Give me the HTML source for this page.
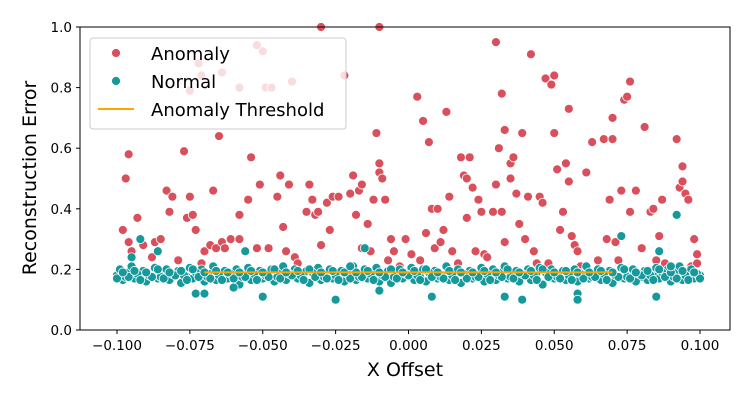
<!DOCTYPE html>
<html><head><meta charset="utf-8"><style>
body{margin:0;background:#fff}
svg text{font-family:"DejaVu Sans","Liberation Sans",sans-serif;fill:#000}
</style></head><body>
<svg id="chart" width="750" height="400" xmlns="http://www.w3.org/2000/svg">
<g id="marks"></g>
<g id="axes"></g>
<g>
<rect x="90" y="38" width="256" height="91" rx="3" fill="#fff" fill-opacity="0.8" stroke="#ccc"/>
<circle cx="116" cy="53" r="4.5" fill="#d9505c" stroke="#fff" stroke-width="0.8"/>
<text x="151" y="60" font-size="18">Anomaly</text>
<circle cx="116" cy="81" r="4.5" fill="#16999b" stroke="#fff" stroke-width="0.8"/>
<text x="151" y="88" font-size="18">Normal</text>
<line x1="98" y1="109" x2="134" y2="109" stroke="#ffa500" stroke-width="2"/>
<text x="151" y="116" font-size="18">Anomaly Threshold</text>
</g>
</svg>
<script>
const xTicks=[-0.100,-0.075,-0.050,-0.025,0.000,0.025,0.050,0.075,0.100];
const xTickLabels=["−0.100","−0.075","−0.050","−0.025","0.000","0.025","0.050","0.075","0.100"];
const yTicks=[0.0,0.2,0.4,0.6,0.8,1.0];
const yTickLabels=["0.0","0.2","0.4","0.6","0.8","1.0"];
const threshold=0.19;
const thresholdRange=[-0.07,0.07];
const anomalyX=[-0.098,-0.097,-0.096,-0.095,-0.096,-0.093,-0.091,-0.088,-0.087,-0.085,-0.083,-0.082,-0.081,-0.079,-0.077,-0.076,-0.075,-0.074,-0.073,-0.072,-0.071,-0.071,-0.070,-0.068,-0.067,-0.066,-0.065,-0.064,-0.063,-0.061,-0.058,-0.058,-0.055,-0.054,-0.052,-0.051,-0.049,-0.048,-0.045,-0.044,-0.043,-0.042,-0.041,-0.039,-0.038,-0.035,-0.034,-0.033,-0.032,-0.031,-0.030,-0.028,-0.027,-0.026,-0.024,-0.022,-0.020,-0.019,-0.018,-0.017,-0.016,-0.016,-0.014,-0.013,-0.012,-0.011,-0.010,-0.010,-0.009,-0.008,-0.007,-0.006,-0.005,-0.003,-0.001,0.001,0.003,0.004,0.005,0.006,0.007,0.008,0.009,0.010,0.011,0.012,0.013,0.014,0.015,0.017,0.018,0.019,0.020,0.020,0.021,0.022,0.023,0.024,0.025,0.026,0.027,0.029,0.030,0.030,0.031,0.032,0.032,0.033,0.033,0.035,0.035,0.036,0.037,0.038,0.039,0.040,0.041,0.042,0.043,0.044,0.045,0.046,0.047,0.048,0.049,0.050,0.050,0.051,0.052,0.053,0.054,0.055,0.055,0.056,0.057,0.058,0.059,0.061,0.063,0.065,0.067,0.068,0.069,0.070,0.070,0.071,0.072,0.073,0.074,0.075,0.076,0.076,0.078,0.080,0.081,0.083,0.084,0.085,0.086,0.087,0.088,0.092,0.093,0.094,0.094,0.095,0.096,0.097,0.098,0.099,0.099,-0.075,-0.064,-0.058,-0.050,-0.047,-0.040,-0.052,-0.030,-0.010];
const anomalyY=[0.33,0.50,0.58,0.26,0.29,0.37,0.28,0.24,0.29,0.30,0.46,0.39,0.44,0.23,0.59,0.37,0.44,0.38,0.33,0.88,0.84,0.22,0.26,0.28,0.46,0.27,0.64,0.29,0.27,0.30,0.38,0.30,0.43,0.57,0.27,0.48,0.80,0.27,0.44,0.51,0.34,0.26,0.48,0.24,0.22,0.39,0.48,0.43,0.38,0.39,0.28,0.42,0.33,0.44,0.44,0.84,0.45,0.51,0.38,0.46,0.27,0.48,0.35,0.26,0.43,0.65,0.55,0.52,0.50,0.43,0.23,0.30,0.26,0.21,0.30,0.25,0.77,0.23,0.69,0.32,0.62,0.40,0.27,0.40,0.29,0.33,0.72,0.44,0.26,0.22,0.57,0.51,0.50,0.37,0.57,0.47,0.26,0.43,0.39,0.25,0.24,0.39,0.95,0.48,0.60,0.78,0.39,0.66,0.29,0.50,0.55,0.57,0.45,0.35,0.65,0.30,0.44,0.91,0.26,0.22,0.44,0.42,0.83,0.22,0.81,0.84,0.65,0.53,0.33,0.39,0.55,0.73,0.49,0.31,0.28,0.26,0.21,0.52,0.62,0.23,0.63,0.30,0.43,0.70,0.63,0.29,0.23,0.46,0.76,0.77,0.82,0.39,0.46,0.27,0.67,0.39,0.40,0.23,0.31,0.43,0.22,0.63,0.47,0.54,0.49,0.45,0.43,0.21,0.30,0.25,0.22,0.79,0.85,0.80,0.92,0.80,0.82,0.94,1.00,1.00];
const normalX=[-0.100,-0.096,-0.092,-0.088,-0.084,-0.080,-0.076,-0.072,-0.068,-0.064,-0.060,-0.056,-0.052,-0.048,-0.044,-0.040,-0.036,-0.032,-0.028,-0.024,-0.020,-0.016,-0.012,-0.008,-0.004,0.000,0.004,0.008,0.012,0.016,0.020,0.024,0.028,0.032,0.036,0.040,0.044,0.048,0.052,0.056,0.060,0.064,0.068,0.072,0.076,0.080,0.084,0.088,0.092,0.096,0.100,
-0.098,-0.094,-0.090,-0.086,-0.082,-0.078,-0.074,-0.070,-0.066,-0.062,-0.058,-0.054,-0.050,-0.046,-0.042,-0.038,-0.034,-0.030,-0.026,-0.022,-0.018,-0.014,-0.010,-0.006,-0.002,0.002,0.006,0.010,0.014,0.018,0.022,0.026,0.030,0.034,0.038,0.042,0.046,0.050,0.054,0.058,0.062,0.066,0.070,0.074,0.078,0.082,0.086,0.090,0.094,0.098,
-0.099,-0.095,-0.091,-0.087,-0.083,-0.079,-0.075,-0.071,-0.067,-0.063,-0.059,-0.055,-0.051,-0.047,-0.043,-0.039,-0.035,-0.031,-0.027,-0.023,-0.019,-0.015,-0.011,-0.007,-0.003,0.001,0.005,0.009,0.013,0.017,0.021,0.025,0.029,0.033,0.037,0.041,0.045,0.049,0.053,0.057,0.061,0.065,0.069,0.073,0.077,0.081,0.085,0.089,0.093,0.097,
-0.097,-0.093,-0.089,-0.085,-0.081,-0.077,-0.073,-0.069,-0.065,-0.061,-0.057,-0.053,-0.049,-0.045,-0.041,-0.037,-0.033,-0.029,-0.025,-0.021,-0.017,-0.013,-0.009,-0.005,-0.001,0.003,0.007,0.011,0.015,0.019,0.023,0.027,0.031,0.035,0.039,0.043,0.047,0.051,0.055,0.059,0.063,0.067,0.071,0.075,0.079,0.083,0.087,0.091,0.095,0.099,
-0.100,-0.096,-0.092,-0.088,-0.084,-0.080,-0.076,-0.072,-0.068,-0.064,-0.060,-0.056,-0.052,-0.048,-0.044,-0.040,-0.036,-0.032,-0.028,-0.024,-0.020,-0.016,-0.012,-0.008,-0.004,0.000,0.004,0.008,0.012,0.016,0.020,0.024,0.028,0.032,0.036,0.040,0.044,0.048,0.052,0.056,0.060,0.064,0.068,0.072,0.076,0.080,0.084,0.088,0.092,0.096,0.100,
-0.098,-0.094,-0.090,-0.086,-0.082,-0.078,-0.074,-0.070,-0.066,-0.062,-0.058,-0.054,-0.050,-0.046,-0.042,-0.038,-0.034,-0.030,-0.026,-0.022,-0.018,-0.014,-0.010,-0.006,-0.002,0.002,0.006,0.010,0.014,0.018,0.022,0.026,0.030,0.034,0.038,0.042,0.046,0.050,0.054,0.058,0.062,0.066,0.070,0.074,0.078,0.082,0.086,0.090,0.094,0.098,
-0.095,-0.092,-0.086,-0.073,-0.070,-0.060,-0.056,-0.050,-0.025,-0.020,-0.015,-0.010,0.008,0.033,0.039,0.058,0.058,0.073,0.085,0.086,0.092,0.090];
const normalY=[0.18,0.19,0.18,0.185,0.19,0.18,0.175,0.19,0.185,0.18,0.19,0.18,0.185,0.175,0.19,0.18,0.185,0.19,0.18,0.175,0.185,0.19,0.18,0.185,0.18,0.19,0.175,0.185,0.18,0.19,0.185,0.18,0.175,0.19,0.18,0.185,0.19,0.18,0.175,0.185,0.19,0.18,0.185,0.18,0.19,0.175,0.185,0.18,0.19,0.185,0.18,
0.165,0.17,0.16,0.17,0.165,0.155,0.17,0.16,0.165,0.17,0.15,0.165,0.17,0.16,0.165,0.17,0.155,0.165,0.17,0.16,0.165,0.17,0.16,0.155,0.17,0.165,0.16,0.17,0.165,0.155,0.17,0.16,0.165,0.17,0.16,0.165,0.15,0.17,0.165,0.16,0.17,0.165,0.155,0.17,0.16,0.165,0.17,0.16,0.165,0.17,
0.20,0.21,0.195,0.205,0.2,0.195,0.205,0.2,0.21,0.195,0.2,0.205,0.195,0.2,0.21,0.2,0.195,0.205,0.2,0.195,0.21,0.2,0.205,0.195,0.2,0.205,0.2,0.195,0.21,0.2,0.195,0.205,0.2,0.21,0.195,0.2,0.205,0.2,0.195,0.2,0.21,0.2,0.195,0.205,0.2,0.195,0.205,0.2,0.21,0.2,
0.175,0.185,0.18,0.175,0.185,0.18,0.19,0.175,0.18,0.185,0.175,0.185,0.18,0.175,0.185,0.18,0.19,0.175,0.18,0.185,0.175,0.185,0.18,0.175,0.185,0.18,0.19,0.175,0.18,0.185,0.175,0.185,0.18,0.175,0.185,0.18,0.19,0.175,0.18,0.185,0.175,0.185,0.18,0.175,0.185,0.18,0.19,0.175,0.18,0.185,
0.17,0.175,0.165,0.175,0.17,0.18,0.165,0.175,0.17,0.165,0.17,0.175,0.165,0.175,0.17,0.18,0.165,0.175,0.17,0.165,0.17,0.175,0.165,0.175,0.17,0.18,0.165,0.175,0.17,0.165,0.17,0.175,0.165,0.175,0.17,0.18,0.165,0.175,0.17,0.165,0.17,0.175,0.165,0.175,0.17,0.18,0.165,0.175,0.17,0.165,0.17,
0.19,0.195,0.19,0.2,0.19,0.195,0.2,0.19,0.195,0.19,0.19,0.195,0.19,0.2,0.19,0.195,0.2,0.19,0.195,0.19,0.19,0.195,0.19,0.2,0.19,0.195,0.2,0.19,0.195,0.19,0.19,0.195,0.19,0.2,0.19,0.195,0.2,0.19,0.195,0.19,0.19,0.195,0.19,0.2,0.19,0.195,0.2,0.19,0.195,0.19,
0.24,0.30,0.26,0.12,0.12,0.14,0.26,0.11,0.10,0.21,0.27,0.13,0.11,0.11,0.10,0.12,0.10,0.31,0.11,0.26,0.38,0.21];

const L=80,R=730,T=27,B=330;
function sx(v){return 117+(v+0.1)/0.2*583;}
function sy(v){return B-(v-0)/1.0*(B-T);}
const NS="http://www.w3.org/2000/svg";
const marks=document.getElementById('marks');
const axes=document.getElementById('axes');
function mk(tag,attrs,parent){const e=document.createElementNS(NS,tag);for(const k in attrs)e.setAttribute(k,attrs[k]);parent.appendChild(e);return e;}

for(let i=0;i<anomalyX.length;i++){
  const c=mk('circle',{cx:sx(anomalyX[i]),cy:sy(anomalyY[i]),r:4.5,fill:'#d9505c',stroke:'#fff','stroke-width':0.8},marks);
  
  
}
for(let i=0;i<normalX.length;i++){
  const c=mk('circle',{cx:sx(normalX[i]),cy:sy(normalY[i]),r:4.5,fill:'#16999b',stroke:'#fff','stroke-width':0.8},marks);
  
  
}
const th=mk('line',{x1:sx(thresholdRange[0]),x2:sx(thresholdRange[1]),y1:sy(threshold),y2:sy(threshold),stroke:'#ffa500','stroke-width':2},marks);



const fr=mk('rect',{x:L,y:T,width:R-L,height:B-T,fill:'none',stroke:'#000','stroke-width':1},axes);


xTicks.forEach((v,i)=>{
  const x=sx(v);
  const t=mk('line',{x1:x,x2:x,y1:B,y2:B+4,stroke:'#000'},axes);
  
  
  const tx=mk('text',{x:x,y:B+20,'font-size':13.5,'text-anchor':'middle'},axes);
  tx.textContent=xTickLabels[i];
  
  
});
yTicks.forEach((v,i)=>{
  const y=sy(v);
  const t=mk('line',{x1:L-4,x2:L,y1:y,y2:y,stroke:'#000'},axes);
  
  
  const tx=mk('text',{x:L-8,y:y+5,'font-size':13.5,'text-anchor':'end'},axes);
  tx.textContent=yTickLabels[i];
  
  
});
const xl=mk('text',{x:405,y:376,'font-size':19,'text-anchor':'middle'},axes);
xl.textContent='X Offset';


const yl=mk('text',{x:0,y:0,'font-size':19,'text-anchor':'middle',transform:'translate(36,178) rotate(-90)'},axes);
yl.textContent='Reconstruction Error';


</script>
</body></html>
